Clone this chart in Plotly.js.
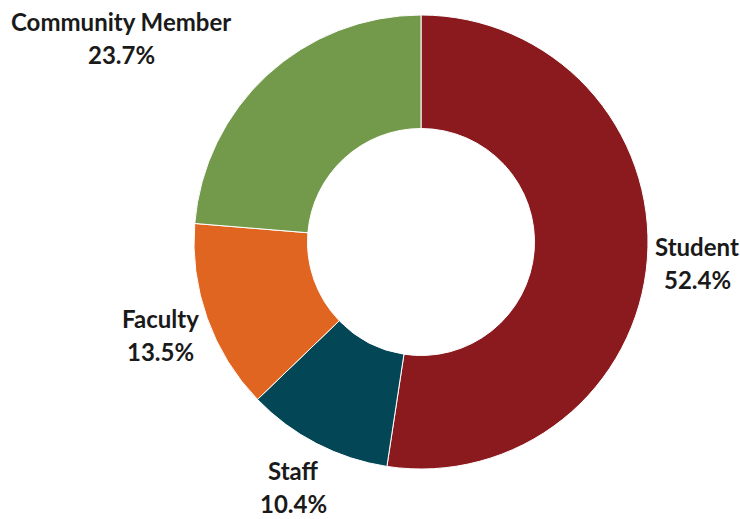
<!DOCTYPE html>
<html><head><meta charset="utf-8">
<script src="https://cdn.plot.ly/plotly-3.0.1.min.js"></script>
<style>html,body{margin:0;padding:0;background:#fff}#chart{width:740px;height:519px}</style>
</head><body><div id="chart"></div>
<script>
const categories = ["Student", "Staff", "Faculty", "Community Member"];
const shares = [52.4, 10.4, 13.5, 23.7];
const colors = ["#8B1A1F", "#034655", "#E06520", "#739A4B"];
// label block centres in pixels (layout only)
const labelPos = [[697, 263], [293, 487], [160, 335], [121, 38]];

const W = 740, H = 519, M = {l: 102, r: 0, t: 15, b: 50};
const pw = W - M.l - M.r, ph = H - M.t - M.b;
const px = x => (x - M.l) / pw;
const py = y => 1 - (y - M.t) / ph;

const trace = {
  type: "pie",
  labels: categories,
  values: shares,
  sort: false,
  direction: "clockwise",
  rotation: 0,
  hole: 0.5,
  marker: {colors: colors, line: {color: "#ffffff", width: 1}},
  textinfo: "none",
  showlegend: false,
  hoverinfo: "none"
};
const font = {family: "Lato, 'Open Sans', sans-serif", size: 24, color: "#1a1a1a"};
const annotations = [];
categories.forEach((c, i) => {
  const [x, y] = labelPos[i];
  annotations.push({xref: "paper", yref: "paper", x: px(x), y: py(y - 16.5), text: "<b>" + c + "</b>",
    showarrow: false, xanchor: "center", yanchor: "middle", borderpad: 0, font: font});
  annotations.push({xref: "paper", yref: "paper", x: px(x), y: py(y + 16.5), text: "<b>" + shares[i].toFixed(1) + "%</b>",
    showarrow: false, xanchor: "center", yanchor: "middle", borderpad: 0, font: font});
});
const layout = {
  width: W, height: H,
  margin: M,
  paper_bgcolor: "#fff",
  showlegend: false,
  annotations: annotations
};
Plotly.newPlot("chart", [trace], layout, {displayModeBar: false, staticPlot: true});
</script></body></html>
